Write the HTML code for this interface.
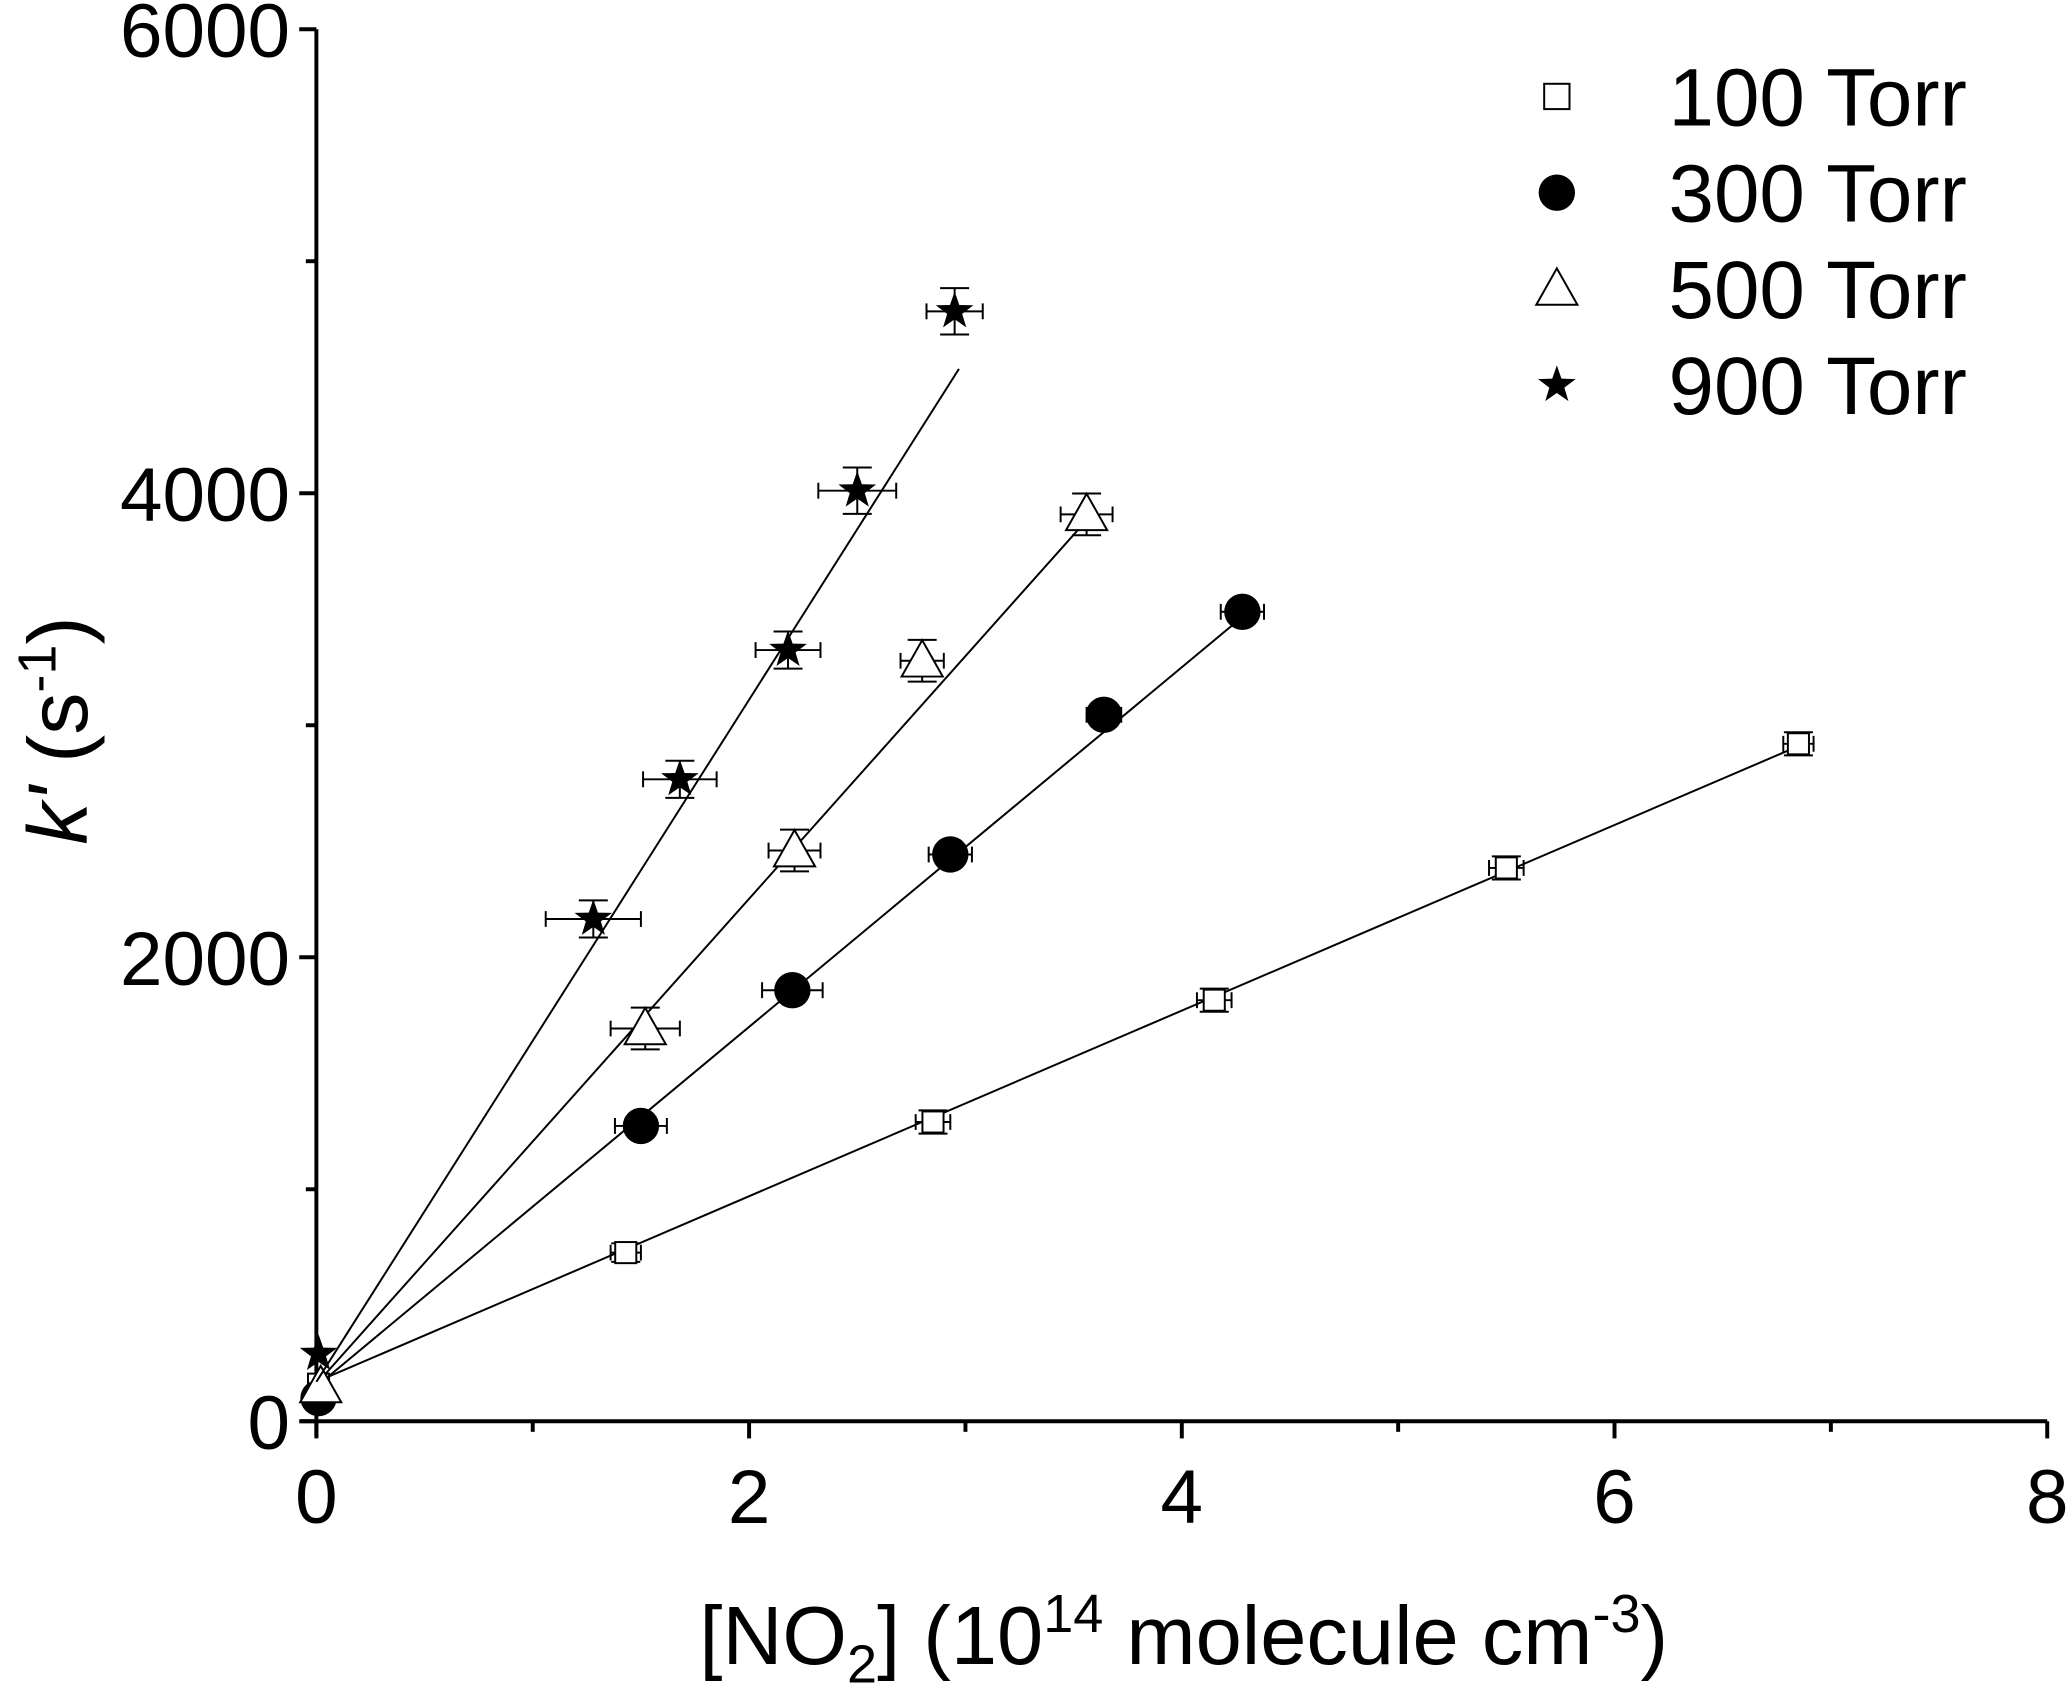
<!DOCTYPE html>
<html><head><meta charset="utf-8">
<style>
html,body{margin:0;padding:0;background:#fff;}
svg{display:block;font-family:"Liberation Sans",Arial,sans-serif;}
</style></head>
<body>
<svg id="chart" width="2067" height="1697" viewBox="0 0 1568 1287" xmlns="http://www.w3.org/2000/svg">
<g id="axes"></g>
<g id="plot"></g>
<g id="legend"></g>
<text x="898" y="1262" font-size="63" text-anchor="middle">[NO<tspan font-size="41" dy="14">2</tspan><tspan dy="-14">] (10</tspan><tspan font-size="41" dy="-24">14</tspan><tspan dy="24"> molecule cm</tspan><tspan font-size="41" dy="-24">-3</tspan><tspan dy="24">)</tspan></text>
<text transform="translate(66,554) rotate(-90)" font-size="64" text-anchor="middle"><tspan font-style="italic">k'</tspan> (s<tspan font-size="41" dy="-24">-1</tspan><tspan dy="24">)</tspan></text>
</svg>
<script>
const xTicks=[0,2,4,6,8];
const xMinor=[1,3,5,7];
const yTicks=[0,2000,4000,6000];
const yMinor=[1000,3000,5000];
const seriesNames=["100 Torr","300 Torr","500 Torr","900 Torr"];
const x100=[0.01,1.43,2.85,4.15,5.5,6.85];
const y100=[160,727,1290,1815,2385,2920];
const xe100=[0,0.07,0.08,0.08,0.08,0.07];
const ye100=[0,40,50,50,50,50];
const x300=[0.01,1.5,2.2,2.93,3.64,4.28];
const y300=[100,1273,1858,2443,3045,3489];
const xe300=[0,0.12,0.14,0.1,0.08,0.1];
const ye300=[0,40,40,40,40,40];
const x500=[0.02,1.52,2.21,2.8,3.56];
const y500=[150,1693,2460,3278,3909];
const xe500=[0,0.16,0.12,0.1,0.12];
const ye500=[0,90,90,90,90];
const x900=[0.01,1.28,1.68,2.18,2.5,2.95];
const y900=[290,2165,2767,3324,4011,4784];
const xe900=[0,0.22,0.17,0.15,0.18,0.13];
const ye900=[0,80,80,80,100,100];
const intercepts=[170,150,160,170];
const slopes=[400,775,1046,1470];
const lineEnds=[6.85,4.28,3.52,2.97];

const NS="http://www.w3.org/2000/svg";
const X0=240,X1=1553,Y0=1078,Y1=22;
const sx=v=>X0+(v/8)*(X1-X0);
const sy=v=>Y0-(v/6000)*(Y0-Y1);
function mk(p,tag,a){const e=document.createElementNS(NS,tag);for(const k in a)e.setAttribute(k,a[k]);p.appendChild(e);return e;}
const axes=document.getElementById('axes'),plot=document.getElementById('plot'),leg=document.getElementById('legend');
let e;
e=mk(axes,'line',{x1:X0,y1:Y0+12,x2:X0,y2:Y1,stroke:'#000','stroke-width':3});


e=mk(axes,'line',{x1:X0-12,y1:Y0,x2:X1,y2:Y0,stroke:'#000','stroke-width':3});


xTicks.forEach(v=>{
 e=mk(axes,'line',{x1:sx(v),y1:Y0,x2:sx(v),y2:Y0+13,stroke:'#000','stroke-width':3});
 
 
 e=mk(axes,'text',{x:sx(v),y:Y0+77,'font-size':58,'text-anchor':'middle'});e.textContent=v;
 
 
});
xMinor.forEach(v=>{
 e=mk(axes,'line',{x1:sx(v),y1:Y0,x2:sx(v),y2:Y0+8,stroke:'#000','stroke-width':3});
 
 
});
yTicks.forEach(v=>{
 e=mk(axes,'line',{x1:X0-13,y1:sy(v),x2:X0,y2:sy(v),stroke:'#000','stroke-width':3});
 
 
 e=mk(axes,'text',{x:X0-20,y:sy(v)+21,'font-size':58,'text-anchor':'end'});e.textContent=v;
 
 
});
yMinor.forEach(v=>{
 e=mk(axes,'line',{x1:X0-8,y1:sy(v),x2:X0,y2:sy(v),stroke:'#000','stroke-width':3});
 
 
});
const data=[[x100,y100,xe100,ye100],[x300,y300,xe300,ye300],[x500,y500,xe500,ye500],[x900,y900,xe900,ye900]];
const kinds=['square','circle','triangle','star'];
function marker(g,kind,cx,cy,s){
 if(kind==='square')return mk(g,'rect',{x:cx-s*0.8,y:cy-s*0.8,width:s*1.6,height:s*1.6,fill:'#fff',stroke:'#000','stroke-width':1.5});
 if(kind==='circle')return mk(g,'circle',{cx:cx,cy:cy,r:s*1.15,fill:'#000'});
 if(kind==='triangle')return mk(g,'polygon',{points:`${cx},${cy-s*1.3} ${cx-s*1.3},${cy+s} ${cx+s*1.3},${cy+s}`,fill:'#fff',stroke:'#000','stroke-width':1.5});
 let pts=[];for(let i=0;i<10;i++){const r=i%2?s*0.5:s*1.25;const a=-Math.PI/2+i*Math.PI/5;pts.push((cx+r*Math.cos(a)).toFixed(1)+','+(cy+r*Math.sin(a)).toFixed(1));}
 return mk(g,'polygon',{points:pts.join(' '),fill:'#000'});
}
data.forEach((d,si)=>{
 const g=mk(plot,'g',{});
 
 
 const l=mk(g,'line',{x1:sx(0),y1:sy(intercepts[si]),x2:sx(lineEnds[si]),y2:sy(intercepts[si]+slopes[si]*lineEnds[si]),stroke:'#000','stroke-width':1.5});
 
 
 const [xs,ys,xe,ye]=d;
 xs.forEach((xv,i)=>{
  const cx=sx(xv),cy=sy(ys[i]);
  if(xe[i]>0){
   const a=sx(xv-xe[i]),b=sx(xv+xe[i]);
   e=mk(g,'path',{d:`M${a},${cy}H${b}M${a},${cy-6}V${cy+6}M${b},${cy-6}V${cy+6}`,stroke:'#000','stroke-width':1.5,fill:'none'});
   
   
  }
  if(ye[i]>0){
   const a=sy(ys[i]-ye[i]),b=sy(ys[i]+ye[i]);
   e=mk(g,'path',{d:`M${cx},${a}V${b}M${cx-11},${a}H${cx+11}M${cx-11},${b}H${cx+11}`,stroke:'#000','stroke-width':1.5,fill:'none'});
   
   
  }
  e=marker(g,kinds[si],cx,cy,si===0?10:12);
  
  
 });
});
seriesNames.forEach((n,i)=>{
 const y=73+i*73;
 const m=marker(leg,kinds[i],1181,y,i===0?12:12);
 
 
 e=mk(leg,'text',{x:1492,y:y+22,'font-size':62,'text-anchor':'end'});e.textContent=n;
 
 
});
</script>
</body></html>
